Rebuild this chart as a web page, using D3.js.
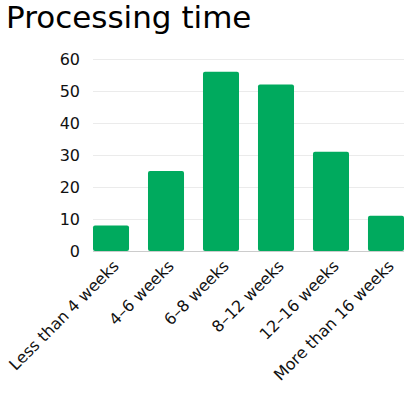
<!DOCTYPE html>
<html>
<head>
<meta charset="utf-8">
<script src="https://cdn.jsdelivr.net/npm/d3@7"></script>
<style>
    body { margin: 0; background: #fff; }
    svg text { font-family: "DejaVu Sans", sans-serif; fill: #111; }
    .grid line { stroke: #ebebeb; stroke-width: 1; }
    .baseline { stroke: #cccccc; stroke-width: 1; }
</style>
</head>
<body>
<svg id="svg" width="417" height="395"></svg>
<script>
const categories = ['Less than 4 weeks', '4–6 weeks', '6–8 weeks', '8–12 weeks', '12–16 weeks', 'More than 16 weeks'];
const values = [8, 25, 56, 52, 31, 11];
const yTicks = [0, 10, 20, 30, 40, 50, 60];

const svg = d3.select('#svg');
const margin = {top: 59, left: 93, right: 13, bottom: 144};
const width = 417 - margin.left - margin.right;
const height = 395 - margin.top - margin.bottom;

svg.append('text')
    .attr('x', 6)
    .attr('y', 28)
    .style('font-size', '31px')
    .style('fill', '#000')
    .text('Processing time');

const g = svg.append('g')
    .attr('transform', 'translate(' + margin.left + ',' + margin.top + ')');

const x = d3.scaleBand()
    .domain(categories)
    .range([0, width])
    .paddingInner(0.345)
    .paddingOuter(0);

const y = d3.scaleLinear()
    .domain([0, 60])
    .range([height, 0]);

// gridlines
g.append('g')
    .attr('class', 'grid')
    .selectAll('line')
    .data(yTicks.slice(1))
  .enter().append('line')
    .attr('x1', 0)
    .attr('x2', width)
    .attr('y1', d => y(d) + 0.5)
    .attr('y2', d => y(d) + 0.5);

const yAxis = d3.axisLeft(y).tickValues(yTicks).tickSize(0).tickPadding(13);
g.append('g')
    .call(yAxis)
    .call(s => s.select('.domain').remove())
    .selectAll('text')
    .style('font-size', '16px');

g.selectAll('rect.bar')
    .data(values)
  .enter().append('rect')
    .attr('class', 'bar')
    .attr('x', (d, i) => x(categories[i]))
    .attr('y', d => y(d))
    .attr('width', x.bandwidth())
    .attr('height', d => height - y(d))
    .attr('rx', 2)
    .attr('fill', '#00aa5e');

g.append('line')
    .attr('class', 'baseline')
    .attr('x1', 0)
    .attr('x2', width)
    .attr('y1', height + 0.5)
    .attr('y2', height + 0.5);

const xAxis = d3.axisBottom(x).tickSize(0).tickPadding(0);
g.append('g')
    .attr('transform', 'translate(0,' + height + ')')
    .call(xAxis)
    .call(s => s.select('.domain').remove())
    .selectAll('text')
    .style('font-size', '16px')
    .attr('text-anchor', 'end')
    .attr('dy', 0)
    .attr('y', 0)
    .attr('transform', 'translate(9,16) rotate(-45)');
</script>
</body>
</html>
